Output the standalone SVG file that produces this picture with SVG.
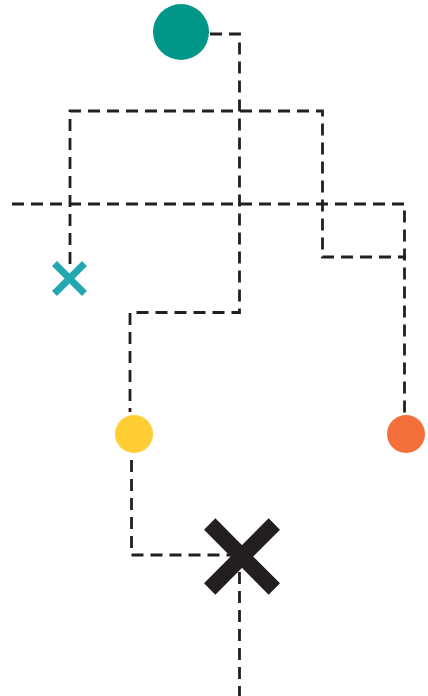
<svg xmlns="http://www.w3.org/2000/svg" width="428" height="696" viewBox="0 0 428 696">
  <style>
    .c { fill: none; stroke: #231f20; stroke-width: 2.8; stroke-dasharray: 12 7; }
  </style>
  <rect width="428" height="696" fill="#ffffff"/>
  <g id="connectors">
    <path class="c" d="M210,34 H239.5 V312.5 H130 V412"/>
    <path class="c" d="M131.5,460 V555 H232"/>
    <path class="c" d="M239.5,572 V696"/>
    <path class="c" d="M70,264 V111 H322.5 V257 H406"/>
    <path class="c" d="M12,204 H404.5 V414"/>
  </g>
  <g id="teal-circle">
    <circle cx="181" cy="32" r="28" fill="#009688"/>
  </g>
  <g id="teal-x">
    <path d="M54.5,263.5 L84.5,293.5 M84.5,263.5 L54.5,293.5" stroke="#23a7b0" stroke-width="7" fill="none"/>
  </g>
  <g id="yellow-circle">
    <circle cx="134" cy="434" r="19" fill="#ffcd34"/>
  </g>
  <g id="orange-circle">
    <circle cx="406" cy="434" r="19" fill="#f3703a"/>
  </g>
  <g id="black-x">
    <path d="M209.7,524 L274.3,589 M274.3,524 L209.7,589" stroke="#231f20" stroke-width="16" fill="none"/>
  </g>
</svg>
